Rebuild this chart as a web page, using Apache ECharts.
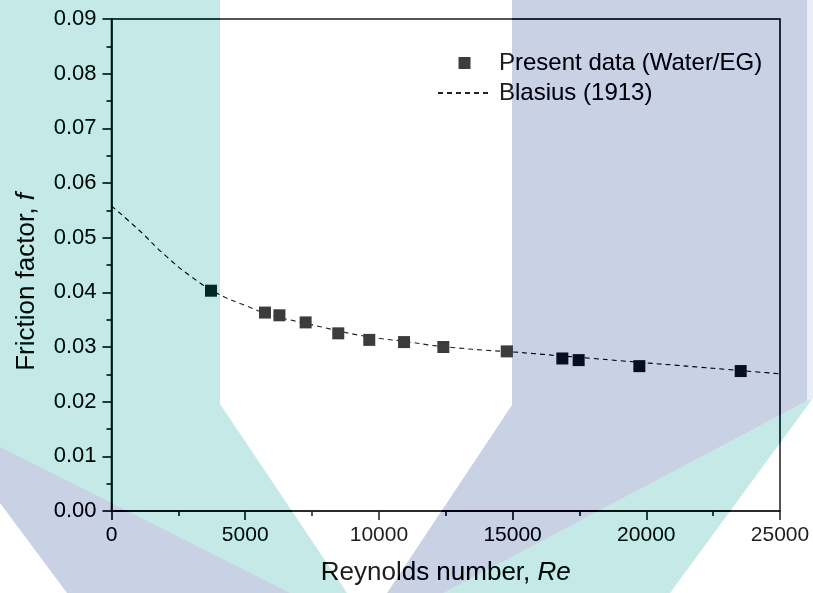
<!DOCTYPE html>
<html>
<head>
<meta charset="utf-8">
<script src="https://cdn.jsdelivr.net/npm/echarts@6/dist/echarts.min.js"></script>
<style>
  html, body { margin: 0; padding: 0; background: #fff; }
  #chart { width: 813px; height: 593px; }
</style>
</head>
<body>
<div id="chart"></div>
<script>
// Measured friction factor vs Reynolds number (water / ethylene glycol)
const presentRe = [3720, 5740, 6280, 7260, 8480, 9640, 10940, 12410, 14780, 16860, 17470, 19740, 23530];
const presentF  = [0.0403, 0.0363, 0.0358, 0.0345, 0.0325, 0.0313, 0.0309, 0.0300, 0.0292, 0.0279, 0.0276, 0.0265, 0.0256];

// Blasius (1913) correlation curve, sampled along the plotted range
const blasiusRe = [0, 1000, 2000, 3000, 4000, 5000, 6000, 7000, 8000, 9000, 10000, 11000, 12000,
                   13000, 14000, 15000, 16000, 17000, 18000, 19000, 20000, 21000, 22000, 23000, 24000, 25000];
const blasiusF  = [0.0558, 0.0515, 0.0468, 0.0428, 0.0397, 0.0376, 0.0358, 0.0346, 0.0335, 0.0324, 0.0316, 0.0310, 0.0303,
                   0.0298, 0.0294, 0.0291, 0.0287, 0.0283, 0.0279, 0.0275, 0.0271, 0.0267, 0.0263, 0.0259, 0.0255, 0.0251];

const seriesNames = ['Present data (Water/EG)', 'Blasius (1913)'];

const FONT = '"Liberation Sans", Arial, sans-serif';
const INK = '#1e1e1e';

const chart = echarts.init(document.getElementById('chart'), null, { renderer: 'canvas' });

// Decorative tinted bands laid over the plot: a colour-burn pass tints the dark
// ink, then a multiply pass tints the paper.
const TEAL = '#c4e9e6';
const LAVENDER = '#c9d1e5';
const LAVENDER_EDGE = '#eceef5';
const bands = [
  { fill: TEAL,          points: [[0, 0], [220, 0], [220, 404], [347, 593], [290, 593], [0, 447]] },
  { fill: TEAL,          points: [[813, 398], [670, 593], [443, 593]] },
  { fill: LAVENDER,      points: [[512, 0], [807, 0], [807, 401], [443, 593], [387, 593], [512, 405]] },
  { fill: LAVENDER_EDGE, points: [[807, 0], [813, 0], [813, 398], [807, 401]] },
  { fill: LAVENDER,      points: [[0, 447], [290, 593], [67, 593], [0, 503]] }
];
const bandElements = [];
['color-burn', 'multiply'].forEach((mode, pass) => {
  bands.forEach(b => bandElements.push({
    type: 'polygon',
    silent: true,
    z: 100 + pass,
    shape: { points: b.points },
    style: { fill: b.fill, blend: mode }
  }));
});

chart.setOption({
  backgroundColor: '#ffffff',
  animation: false,
  textStyle: { fontFamily: FONT },
  grid: {
    left: 111.5, right: 33, top: 19, bottom: 82,
    show: true, borderColor: INK, borderWidth: 1.5, backgroundColor: 'transparent'
  },
  legend: {
    orient: 'vertical',
    left: 432, top: 46,
    padding: 5,
    itemWidth: 53, itemHeight: 12, itemGap: 6,
    symbolKeepAspect: true,
    textStyle: { fontSize: 24, color: INK, fontFamily: FONT, padding: [0, 0, 0, 3] },
    data: [
      { name: seriesNames[0], icon: 'path://M0,0L12,0L12,12L0,12Z' },
      { name: seriesNames[1], itemStyle: { opacity: 0 } }
    ]
  },
  xAxis: {
    type: 'value',
    min: 0, max: 25000, interval: 5000,
    name: '{n|Reynolds number, }{i|Re}',
    nameLocation: 'middle',
    nameGap: 49,
    nameTextStyle: {
      rich: {
        n: { fontSize: 26, color: INK, fontFamily: FONT },
        i: { fontSize: 26, color: INK, fontFamily: FONT, fontStyle: 'italic' }
      }
    },
    axisLine: { show: true, onZero: false, lineStyle: { color: INK, width: 1.5 } },
    axisTick: { show: true, inside: false, length: 9, lineStyle: { color: INK, width: 1.5 } },
    minorTick: { show: true, splitNumber: 2, length: 5, lineStyle: { color: INK, width: 1.5 } },
    axisLabel: { fontSize: 21, color: INK, margin: 14, fontFamily: FONT, formatter: v => String(v) },
    splitLine: { show: false }
  },
  yAxis: {
    type: 'value',
    min: 0, max: 0.09, interval: 0.01,
    name: '{n|Friction factor, }{i|f}',
    nameLocation: 'middle',
    nameGap: 72,
    nameTextStyle: {
      padding: [0, 34, 0, 0],
      rich: {
        n: { fontSize: 26, color: INK, fontFamily: FONT },
        i: { fontSize: 26, color: INK, fontFamily: FONT, fontStyle: 'italic' }
      }
    },
    axisLine: { show: true, onZero: false, lineStyle: { color: INK, width: 1.5 } },
    axisTick: { show: true, inside: false, length: 9, lineStyle: { color: INK, width: 1.5 } },
    minorTick: { show: true, splitNumber: 2, length: 5, lineStyle: { color: INK, width: 1.5 } },
    axisLabel: {
      fontSize: 22, color: INK, margin: 15, fontFamily: FONT,
      formatter: v => v.toFixed(2)
    },
    splitLine: { show: false }
  },
  series: [
    {
      name: seriesNames[1],
      type: 'line',
      smooth: true,
      symbol: 'none',
      z: 2,
      lineStyle: { color: '#222222', width: 1.1, type: [5, 4] },
      itemStyle: { color: '#222222' },
      data: blasiusRe.map((re, i) => [re, blasiusF[i]])
    },
    {
      name: seriesNames[0],
      type: 'scatter',
      symbol: 'rect',
      symbolSize: 12,
      symbolKeepAspect: true,
      z: 3,
      itemStyle: { color: '#3c3c3c', opacity: 1 },
      data: presentRe.map((re, i) => [re, presentF[i]])
    }
  ],
  graphic: bandElements
});
</script>
</body>
</html>
